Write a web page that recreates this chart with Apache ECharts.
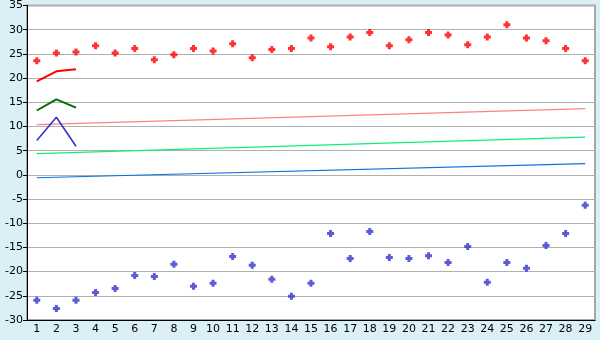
<!DOCTYPE html>
<html><head><meta charset="utf-8">
<script src="https://cdn.jsdelivr.net/npm/echarts@6/dist/echarts.min.js"></script>
<style>html,body{margin:0;padding:0;background:#daeff6;}#c{width:600px;height:340px;}</style>
</head><body><div id="c"></div>
<script>
var days = ['1','2','3','4','5','6','7','8','9','10','11','12','13','14','15','16','17','18','19','20','21','22','23','24','25','26','27','28','29'];
var maxTemps = [23.6,25.2,25.4,26.7,25.2,26.1,23.8,24.8,26.1,25.6,27.1,24.2,25.9,26.1,28.3,26.5,28.5,29.4,26.7,27.9,29.4,28.9,26.9,28.5,31.0,28.3,27.7,26.1,23.6];
var minTemps = [-25.9,-27.6,-25.9,-24.3,-23.5,-20.8,-21.0,-18.5,-23.0,-22.4,-16.9,-18.7,-21.6,-25.1,-22.4,-12.1,-17.3,-11.7,-17.1,-17.3,-16.7,-18.1,-14.8,-22.2,-18.1,-19.3,-14.6,-12.1,-6.3];
var shortDays = ['1','2','3'];
var redLine = [19.3,21.4,21.8];
var greenLine = [13.3,15.6,13.9];
var blueLine = [7.1,11.9,5.9];
var trendEnds = ['1','29'];
var pinkTrend = [10.4,13.7];
var greenTrend = [4.4,7.8];
var blueTrend = [-0.6,2.3];
var yTicks = {min:-30, max:35, interval:5};

function pairs(xs, ys){ return xs.map(function(x,i){ return [x, ys[i]]; }); }
var plus = 'path://M2,0h3v2h2v3h-2v2h-3v-2h-2v-3h2z';
function lineS(xs, ys, color, w){
  return {type:'line', data:pairs(xs,ys), symbol:'none', lineStyle:{color:color,width:w}, silent:true, z:3};
}
var chart = echarts.init(document.getElementById('c'));
chart.setOption({
  backgroundColor:'#daeff6',
  animation:false,
  grid:{left:27,right:5,top:5,bottom:20,show:true,backgroundColor:'#ffffff',borderColor:'#a8a8a8',borderWidth:2},
  xAxis:{type:'category',data:days,boundaryGap:true,
    axisLine:{onZero:false,lineStyle:{color:'#000',width:1}},
    axisTick:{alignWithLabel:true,length:5,lineStyle:{color:'#000'}},
    axisLabel:{color:'#000',fontFamily:'DejaVu Sans',fontSize:11,margin:4,interval:0},
    splitLine:{show:false}},
  yAxis:{type:'value',min:yTicks.min,max:yTicks.max,interval:yTicks.interval,
    axisLine:{show:true,lineStyle:{color:'#000',width:1}},
    axisTick:{show:true,length:4,lineStyle:{color:'#000'}},
    axisLabel:{color:'#000',fontFamily:'DejaVu Sans',fontSize:11,margin:4},
    splitLine:{lineStyle:{color:'#b0b0b0',width:1}}},
  series:[
    lineS(trendEnds,pinkTrend,'#ff8080',1.2),
    lineS(trendEnds,greenTrend,'#11ee77',1.2),
    lineS(trendEnds,blueTrend,'#0a74e0',1.2),
    lineS(shortDays,redLine,'#ff0000',2),
    lineS(shortDays,greenLine,'#006e00',2),
    lineS(shortDays,blueLine,'#3333cc',1.6),
    {type:'scatter',data:maxTemps,symbol:plus,symbolSize:7,itemStyle:{color:'#ff0000'},z:4},
    {type:'scatter',data:minTemps,symbol:plus,symbolSize:7,itemStyle:{color:'#3333cc'},z:4}
  ]
});
</script></body></html>
